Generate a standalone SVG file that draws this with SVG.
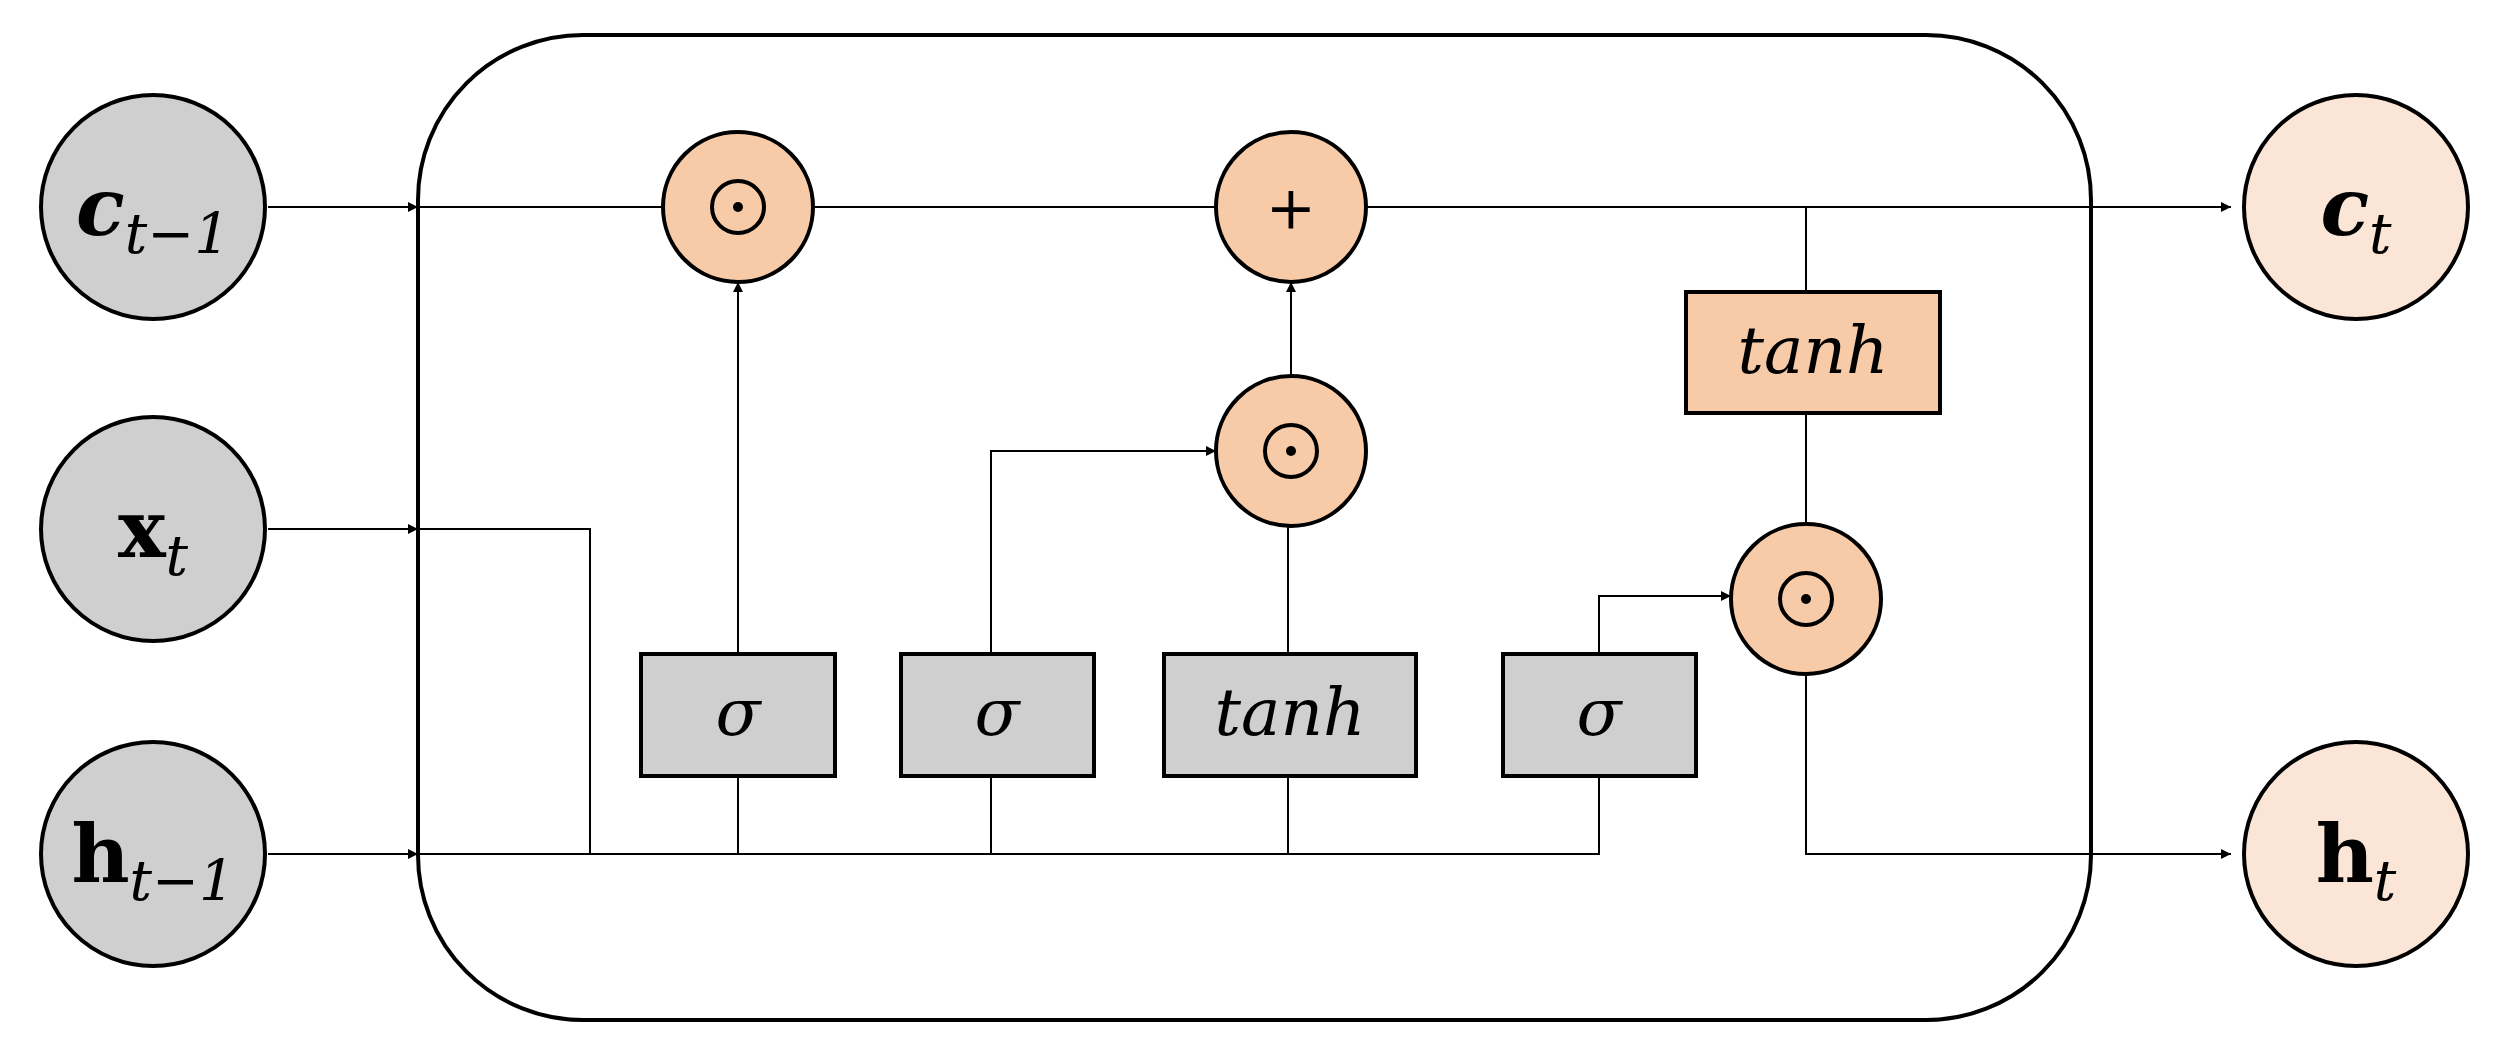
<svg xmlns="http://www.w3.org/2000/svg" width="2499" height="1048" viewBox="0 0 2499 1048">
<style>
.g{fill:#d0cfd0;stroke:#000;stroke-width:4}
.o{fill:#f8cba8;stroke:#000;stroke-width:4}
.lo{fill:#fbe5d6;stroke:#000;stroke-width:4}
.ln{fill:none;stroke:#000;stroke-width:2}
text{font-family:"DejaVu Serif","Liberation Serif",serif;fill:#000;text-anchor:middle}
.big{font-size:80px;font-weight:bold}
.sub{font-size:56px;font-style:italic;font-weight:normal}
.lab{font-size:66px;font-style:italic}
.op{font-size:60px}
</style>
<defs>
<marker id="a" markerWidth="10" markerHeight="10" refX="10" refY="5" orient="auto" markerUnits="userSpaceOnUse" viewBox="0 0 10 10">
<path d="M0,0L10,5L0,10z" fill="#000"/>
</marker>
</defs>
<rect x="418" y="35" width="1673" height="985" rx="165" fill="#fff" stroke="#000" stroke-width="4"/>
<g id="connectors" class="ln">
<path d="M268,207H418" marker-end="url(#a)" transform="" />
<path d="M418,207H2231" marker-end="url(#a)"/>
<path d="M268,529H418" marker-end="url(#a)"/>
<path d="M418,529H590V854"/>
<path d="M268,854H418" marker-end="url(#a)"/>
<path d="M418,854H1599V776"/>
<path d="M738,854V776M991,854V776M1288,854V776"/>
<path d="M738,654V282" marker-end="url(#a)"/>
<path d="M991,654V451H1216" marker-end="url(#a)"/>
<path d="M1288,654V526"/>
<path d="M1291,376V282" marker-end="url(#a)"/>
<path d="M1599,654V596H1731" marker-end="url(#a)"/>
<path d="M1806,207V292M1806,413V524"/>
<path d="M1806,674V854H2231" marker-end="url(#a)"/>
</g>
<g id="c_prev"><circle class="g" cx="153" cy="207" r="112"/><text x="153" y="235"><tspan class="big" font-style="italic">c</tspan><tspan class="sub" dy="18">t−1</tspan></text></g>
<g id="x_t"><circle class="g" cx="153" cy="529" r="112"/><text x="153" y="557"><tspan class="big">x</tspan><tspan class="sub" dy="18">t</tspan></text></g>
<g id="h_prev"><circle class="g" cx="153" cy="854" r="112"/><text x="153" y="882"><tspan class="big">h</tspan><tspan class="sub" dy="18">t−1</tspan></text></g>
<g id="c_t"><circle class="lo" cx="2356" cy="207" r="112"/><text x="2356" y="235"><tspan class="big" font-style="italic">c</tspan><tspan class="sub" dy="18">t</tspan></text></g>
<g id="h_t"><circle class="lo" cx="2356" cy="854" r="112"/><text x="2356" y="882"><tspan class="big">h</tspan><tspan class="sub" dy="18">t</tspan></text></g>
<g id="mul1"><circle class="o" cx="738" cy="207" r="75"/><circle cx="738" cy="207" r="26" fill="none" stroke="#000" stroke-width="4"/><circle cx="738" cy="207" r="5"/></g>
<g id="add"><circle class="o" cx="1291" cy="207" r="75"/><text class="op" x="1291" y="228">+</text></g>
<g id="mul2"><circle class="o" cx="1291" cy="451" r="75"/><circle cx="1291" cy="451" r="26" fill="none" stroke="#000" stroke-width="4"/><circle cx="1291" cy="451" r="5"/></g>
<g id="mul3"><circle class="o" cx="1806" cy="599" r="75"/><circle cx="1806" cy="599" r="26" fill="none" stroke="#000" stroke-width="4"/><circle cx="1806" cy="599" r="5"/></g>
<g id="sig1"><rect class="g" x="641" y="654" width="194" height="122"/><text class="lab" x="738" y="735">σ</text></g>
<g id="sig2"><rect class="g" x="901" y="654" width="193" height="122"/><text class="lab" x="997" y="735">σ</text></g>
<g id="tanh1"><rect class="g" x="1164" y="654" width="252" height="122"/><text class="lab" x="1290" y="735">tanh</text></g>
<g id="sig3"><rect class="g" x="1503" y="654" width="193" height="122"/><text class="lab" x="1599" y="735">σ</text></g>
<g id="tanh2"><rect class="o" x="1686" y="292" width="254" height="121"/><text class="lab" x="1813" y="373">tanh</text></g>
</svg>
